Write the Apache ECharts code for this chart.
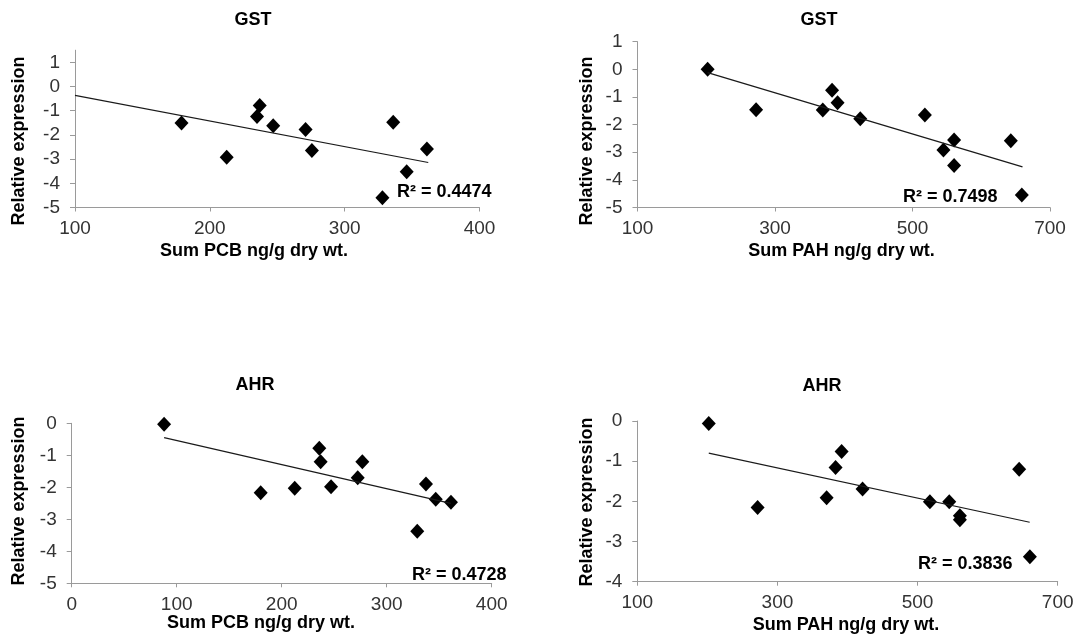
<!DOCTYPE html>
<html><head><meta charset="utf-8">
<script src="https://cdn.jsdelivr.net/npm/echarts@6/dist/echarts.min.js"></script>
<style>html,body{margin:0;padding:0;background:#fff}#c{width:1078px;height:639px}</style>
</head><body><div id="c"></div>
<script>
// ---- data ----
const titles = ['GST', 'GST', 'AHR', 'AHR'];
const xNames = ['Sum PCB ng/g dry wt.', 'Sum PAH ng/g dry wt.', 'Sum PCB ng/g dry wt.', 'Sum PAH ng/g dry wt.'];
const yName = 'Relative expression';
const rSquared = ['R\u00B2 = 0.4474', 'R\u00B2 = 0.7498', 'R\u00B2 = 0.4728', 'R\u00B2 = 0.3836'];

// GST vs PCB
const gstPcbX = [179, 212.5, 235, 237, 247, 271, 275.7, 336, 346, 328, 361];
const gstPcbY = [-1.51, -2.92, -1.24, -0.79, -1.62, -1.78, -2.64, -1.48, -3.52, -4.60, -2.58];
const gstPcbTrend = [[100, -0.37], [362, -3.14]];
// GST vs PAH
const gstPahX = [202, 272.5, 369.5, 383, 391, 424, 518, 545, 560.5, 560.5, 643, 659];
const gstPahY = [0.0, -1.46, -1.47, -0.76, -1.21, -1.79, -1.65, -2.92, -2.56, -3.48, -2.58, -4.55];
const gstPahTrend = [[202, -0.12], [660, -3.53]];
// AHR vs PCB
const ahrPcbX = [88, 180, 212.4, 235.8, 237.1, 247, 272.4, 276.8, 337.4, 346.7, 361.2, 329.1];
const ahrPcbY = [-0.03, -2.17, -2.03, -0.78, -1.20, -1.98, -1.70, -1.20, -1.90, -2.37, -2.47, -3.37];
const ahrPcbTrend = [[88, -0.45], [361, -2.50]];
// AHR vs PAH
const ahrPahX = [202, 271.7, 370.2, 383, 391.6, 421.5, 517.6, 545.2, 560.4, 560.4, 645, 660.3];
const ahrPahY = [-0.06, -2.15, -1.91, -1.16, -0.76, -1.69, -2.01, -2.01, -2.36, -2.46, -1.20, -3.38];
const ahrPahTrend = [[202, -0.80], [660, -2.52]];

// ticks
const xTicksPcb1 = [100, 200, 300, 400];
const xTicksPah = [100, 300, 500, 700];
const xTicksPcb2 = [0, 100, 200, 300, 400];
const yTicksA = [-5, -4, -3, -2, -1, 0, 1];
const yTicksB = [-5, -4, -3, -2, -1, 0];
const yTicksC = [-4, -3, -2, -1, 0];

// ---- layout ----
const FONT = "'Liberation Sans', Arial, sans-serif";
const panels = [
  {grid: {left: 75, top: 50.2, width: 404.5, height: 157.3}, xMin: 100, xMax: 400, yMin: -5, yMax: 1.5, xt: xTicksPcb1, yt: yTicksA,
   xs: gstPcbX, ys: gstPcbY, trend: gstPcbTrend, title: [253, 20], xn: [254, 251], yn: [19, 141], r2: [397, 192]},
  {grid: {left: 637.5, top: 41.7, width: 412.5, height: 165.8}, xMin: 100, xMax: 700, yMin: -5, yMax: 1, xt: xTicksPah, yt: yTicksA,
   xs: gstPahX, ys: gstPahY, trend: gstPahTrend, title: [819, 20], xn: [841.5, 251], yn: [587, 141], r2: [903, 197]},
  {grid: {left: 71.7, top: 423.3, width: 420, height: 160}, xMin: 0, xMax: 400, yMin: -5, yMax: 0, xt: xTicksPcb2, yt: yTicksB,
   xs: ahrPcbX, ys: ahrPcbY, trend: ahrPcbTrend, title: [255, 385], xn: [261, 623], yn: [19, 501], r2: [412, 575]},
  {grid: {left: 637.3, top: 421, width: 420.4, height: 160.7}, xMin: 100, xMax: 700, yMin: -4, yMax: 0, xt: xTicksPah, yt: yTicksC,
   xs: ahrPahX, ys: ahrPahY, trend: ahrPahTrend, title: [822, 386], xn: [846, 625], yn: [587, 502], r2: [918, 564]}
];

const AXIS_COLOR = '#9a9a9a';
const LABEL_COLOR = '#333333';
const grid = [], xAxis = [], yAxis = [], series = [], graphic = [];
panels.forEach((p, i) => {
  grid.push(Object.assign({containLabel: false}, p.grid));
  xAxis.push({
    type: 'value', gridIndex: i, min: p.xMin, max: p.xMax,
    splitLine: {show: false},
    axisLine: {show: true, onZero: false, lineStyle: {color: AXIS_COLOR, width: 1}},
    axisTick: {show: true, length: 4, customValues: p.xt, lineStyle: {color: AXIS_COLOR}},
    axisLabel: {customValues: p.xt, margin: 12, fontFamily: FONT, fontSize: 19, color: LABEL_COLOR}
  });
  yAxis.push({
    type: 'value', gridIndex: i, min: p.yMin, max: p.yMax,
    splitLine: {show: false},
    axisLine: {show: true, onZero: false, lineStyle: {color: AXIS_COLOR, width: 1}},
    axisTick: {show: true, length: 5, customValues: p.yt, lineStyle: {color: AXIS_COLOR}},
    axisLabel: {customValues: p.yt, margin: 15, fontFamily: FONT, fontSize: 19, color: LABEL_COLOR}
  });
  series.push({
    type: 'scatter', xAxisIndex: i, yAxisIndex: i, symbol: 'diamond', symbolSize: [14, 15],
    itemStyle: {color: '#000', opacity: 1}, clip: true,
    data: p.xs.map((x, k) => [x, p.ys[k]])
  });
  series.push({
    type: 'line', xAxisIndex: i, yAxisIndex: i, showSymbol: false, symbol: 'none', clip: true,
    lineStyle: {color: '#1a1a1a', width: 1.2}, silent: true,
    data: p.trend
  });
  graphic.push({type: 'text', x: p.title[0], y: p.title[1],
    style: {text: titles[i], align: 'center', verticalAlign: 'middle', font: `bold 18px ${FONT}`, fill: '#000'}});
  graphic.push({type: 'text', x: p.xn[0], y: p.xn[1],
    style: {text: xNames[i], align: 'center', verticalAlign: 'middle', font: `bold 18px ${FONT}`, fill: '#000'}});
  graphic.push({type: 'text', x: p.yn[0], y: p.yn[1], rotation: Math.PI / 2,
    style: {text: yName, align: 'center', verticalAlign: 'middle', font: `bold 18px ${FONT}`, fill: '#000'}});
  graphic.push({type: 'text', x: p.r2[0], y: p.r2[1],
    style: {text: rSquared[i], align: 'left', verticalAlign: 'middle', font: `bold 18px ${FONT}`, fill: '#000'}});
});

const chart = echarts.init(document.getElementById('c'), null, {renderer: 'canvas'});
chart.setOption({animation: false, backgroundColor: '#fff', grid, xAxis, yAxis, series, graphic});
</script>
</body></html>
